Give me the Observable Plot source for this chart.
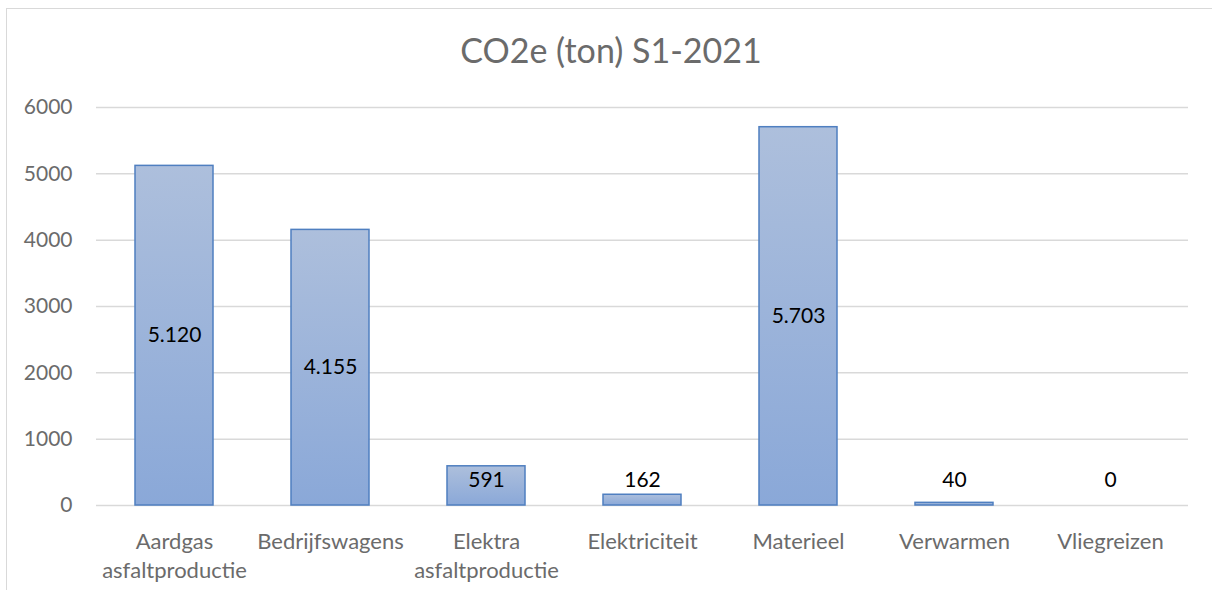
<!DOCTYPE html>
<html><head><meta charset="utf-8">
<script src="https://cdn.jsdelivr.net/npm/d3@7"></script>
<script src="https://cdn.jsdelivr.net/npm/@observablehq/plot@0.6"></script>
<style>
body{margin:0;background:#fff;}
#wrap{position:relative;width:1212px;height:590px;overflow:hidden;font-family:Lato,sans-serif;}
#frame{position:absolute;left:6px;top:8px;right:-10px;bottom:-10px;border-left:1.5px solid #d9d9d9;border-top:1.5px solid #d9d9d9;}
#title{position:absolute;left:0;top:33px;width:1222px;text-align:center;font-size:34px;line-height:34px;color:#6b6b6b;}
#chart{position:absolute;left:0;top:0;}
</style>
</head><body>
<div id="wrap"><div id="frame"></div><div id="chart"></div><div id="title">CO2e (ton) S1-2021</div></div>
<script>
const categories = ["Aardgas\nasfaltproductie","Bedrijfswagens","Elektra\nasfaltproductie","Elektriciteit","Materieel","Verwarmen","Vliegreizen"];
const values = [5120,4155,591,162,5703,40,0];
const yTicks = [0,1000,2000,3000,4000,5000,6000];

const data = categories.map((c,i)=>({category:c, value:values[i]}));
const nl = d3.formatLocale({decimal:",",thousands:".",grouping:[3],currency:["€",""]});
const fmt = nl.format(",d");

const chart = Plot.plot({
  width:1212,height:590,marginLeft:96,marginRight:24,marginTop:107,marginBottom:85,
  style:{fontFamily:"Lato, sans-serif",fontSize:"21px",color:"#6b6b6b",background:"transparent"},
  x:{domain:categories,paddingInner:0.5,paddingOuter:0.25,label:null},
  y:{domain:[0,6000],label:null},
  marks:[
    Plot.gridY(yTicks,{stroke:"#d9d9d9",strokeOpacity:1,strokeWidth:1.5}),
    Plot.axisY(yTicks,{tickSize:0,tickPadding:24,tickFormat:d=>String(d),label:null,fontSize:21}),
    Plot.axisX({tickSize:0,tickPadding:22,label:null,fontSize:22,lineHeight:1.35}),
    Plot.barY(data.filter(d=>d.value>0),{x:"category",y:"value",fill:"url(#barGrad)",stroke:"#4f7fc0",strokeWidth:1.5}),
    Plot.text(data,{x:"category",y:d=>Math.max(d.value/2,384),text:d=>fmt(d.value),fill:"#000",fontSize:21})
  ]
});
d3.select(chart).insert("defs",":first-child").html(
  '<linearGradient id="barGrad" x1="0" y1="0" x2="0" y2="1"><stop offset="0" stop-color="#adbfdc"/><stop offset="1" stop-color="#8aa8d8"/></linearGradient>'
);
document.getElementById("chart").appendChild(chart);
</script>
</body></html>
